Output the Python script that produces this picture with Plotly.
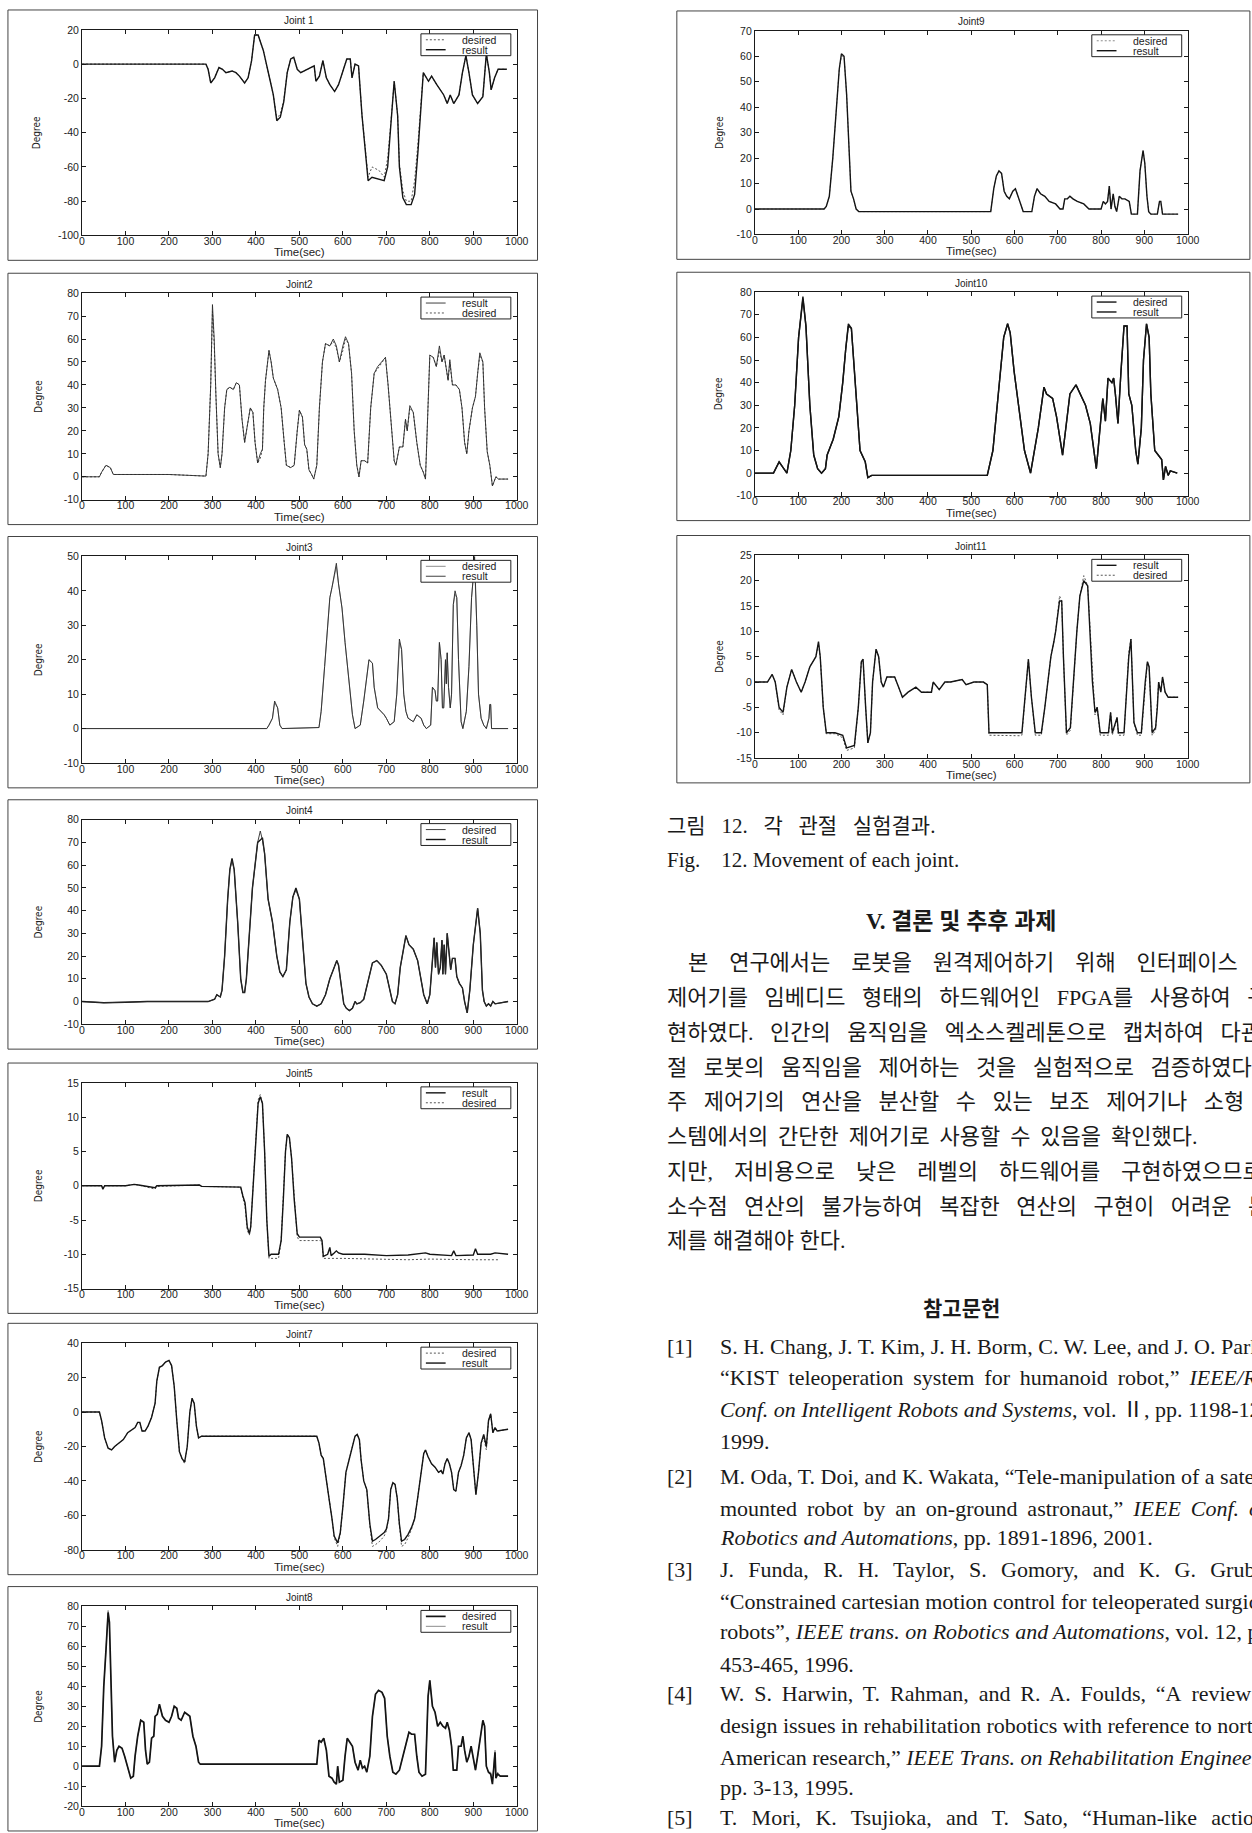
import plotly.graph_objects as go

W, H = 1252, 1833

# ---------------- data (time in sec, angle in degree) ----------------
X_TICKS = [0, 100, 200, 300, 400, 500, 600, 700, 800, 900, 1000]

J1_YTICKS = [-100, -80, -60, -40, -20, 0, 20]
J1_RESULT = [(0,0),(285,0),(290,-3),(296,-11),(305,-8),(315,-2),(323,-3),(331,-5),(345,-4),(354,-5),(362,-7),(374,-11),(382,-8),(390,2),(397,17),(405,17),(417,8),(425,-2),(433,-10),(440,-18),(448,-33),(456,-31),(464,-22),(472,-5),(480,3),(487,4),(495,-3),(503,-5),(519,-3),(534,-1),(538,-10),(546,-7),(554,2),(562,-8),(570,-12),(581,-16),(590,-12),(597,-6),(609,3),(617,3),(621,-8),(628,0),(636,-1),(644,-30),(652,-50),(658,-68),(667,-66),(683,-67),(695,-68),(703,-60),(710,-35),(718,-10),(726,-30),(730,-60),(738,-78),(746,-82),(757,-82),(765,-76),(773,-50),(781,-20),(785,-5),(797,-10),(804,-7),(816,-12),(832,-18),(840,-23),(847,-18),(855,-23),(867,-18),(875,-5),(883,5),(890,-5),(898,-18),(910,-23),(922,-19),(930,6),(937,-5),(941,-15),(949,-8),(957,-3),(977,-3)]
J1_DESIRED = [(0,0),(285,0),(290,-3),(296,-11),(305,-8),(315,-2),(323,-3),(331,-5),(345,-4),(354,-5),(362,-7),(374,-11),(382,-8),(390,2),(397,17),(405,17),(417,8),(425,-2),(433,-10),(440,-18),(448,-32),(456,-29),(464,-21),(472,-5),(480,3),(487,4),(495,-3),(503,-5),(519,-3),(534,-1),(538,-10),(546,-7),(554,2),(562,-8),(570,-12),(581,-16),(590,-12),(597,-6),(609,3),(617,3),(621,-8),(628,0),(636,-1),(644,-30),(652,-50),(658,-66),(667,-60),(683,-62),(695,-66),(703,-55),(710,-35),(718,-10),(726,-30),(730,-58),(738,-74),(746,-80),(757,-80),(765,-68),(773,-45),(781,-20),(785,-5),(797,-10),(804,-7),(816,-12),(832,-18),(840,-23),(847,-18),(855,-23),(867,-18),(875,-5),(883,5),(890,-5),(898,-18),(910,-23),(922,-19),(930,6),(937,-5),(941,-15),(949,-8),(957,-3),(977,-3)]

J2_YTICKS = [-10, 0, 10, 20, 30, 40, 50, 60, 70, 80]
J2_RESULT = [(0,0),(40,0),(45,2),(55,5),(65,4),(72,1),(200,1),(285,0.3),(290,10),(296,40),(300,75),(304,60),(308,35),(313,10),(318,4),(322,10),(328,30),(333,38),(340,39),(348,38),(355,41),(362,40),(368,25),(374,15),(380,22),(387,30),(393,28),(398,15),(404,6),(410,10),(415,12),(418,30),(422,42),(430,55),(435,50),(440,43),(450,38),(458,30),(465,15),(470,5),(480,4),(488,5),(495,20),(500,29),(507,26),(512,14),(517,12),(522,3),(528,1),(533,-1),(540,5),(546,30),(553,50),(560,58),(570,57),(578,60),(585,57),(592,50),(600,57),(606,61),(613,58),(620,45),(626,20),(632,5),(637,0),(642,7),(650,7),(657,6),(664,30),(672,45),(680,48),(690,50),(698,52),(704,40),(712,20),(718,7),(722,5),(730,13),(738,13),(744,25),(748,20),(754,31),(762,28),(770,15),(778,5),(785,2),(790,-1),(795,30),(800,53),(808,52),(815,48),(822,57),(828,50),(833,53),(838,46),(842,42),(846,51),(852,40),(860,40),(868,38),(874,30),(880,15),(885,10),(890,20),(898,30),(905,35),(910,45),(915,54),(922,50),(926,30),(932,11),(938,5),(944,-4),(948,-2),(952,0),(958,-1),(980,-1)]
J2_DESIRED = [(0,0),(40,0),(45,2),(55,5),(65,4),(72,1),(200,1),(285,0.3),(290,10),(296,40),(300,72),(304,58),(308,35),(313,10),(318,4),(322,10),(328,30),(333,38),(340,39),(348,38),(355,41),(362,40),(368,25),(374,15),(380,22),(387,30),(393,28),(398,15),(404,6),(410,8),(415,12),(418,30),(422,42),(430,55),(435,50),(440,43),(450,38),(458,30),(465,15),(470,5),(480,4),(488,5),(495,20),(500,29),(507,26),(512,14),(517,12),(522,3),(528,1),(533,-1),(540,5),(546,30),(553,50),(560,58),(570,57),(578,59),(585,56),(592,50),(600,55),(606,60),(613,58),(620,45),(626,20),(632,5),(637,0),(642,7),(650,7),(657,6),(664,30),(672,45),(680,47),(690,50),(698,52),(704,40),(712,20),(718,7),(722,5),(730,13),(738,13),(744,25),(748,20),(754,30),(762,28),(770,15),(778,5),(785,2),(790,-1),(795,30),(800,53),(808,52),(815,48),(822,55),(828,50),(833,53),(838,46),(842,42),(846,50),(852,40),(860,40),(868,38),(874,30),(880,15),(885,10),(890,20),(898,30),(905,35),(910,45),(915,53),(922,50),(926,30),(932,11),(938,5),(944,-4),(948,-2),(952,0),(958,-1),(980,-1)]

J3_YTICKS = [-10, 0, 10, 20, 30, 40, 50]
J3_RESULT = [(0,0),(425,0),(430,1),(438,3),(443,8),(450,6),(455,1),(460,0),(545,0.3),(550,5),(558,18),(565,30),(570,38),(575,41),(580,44),(585,48),(590,42),(598,35),(605,25),(615,12),(622,4),(628,0),(640,1),(648,8),(655,15),(660,20),(668,19),(672,12),(680,6),(688,5),(695,4),(700,3),(708,1),(718,2),(724,10),(730,26),(735,23),(740,10),(745,5),(750,3),(762,2),(770,4),(780,3),(786,1),(792,0),(802,1),(806,12),(812,11),(815,8),(818,8),(822,25),(826,20),(829,6),(832,6),(836,20),(838,13),(840,22),(843,12),(847,6),(850,10),(854,36),(858,40),(862,38),(866,20),(872,2),(876,0),(884,5),(890,18),(896,38),(900,44),(903,50),(908,30),(912,10),(918,3),(924,1),(930,0),(936,3),(938,7),(940,7),(942,0),(980,0)]
J3_DESIRED = [(0,0),(425,0),(430,1),(438,3),(443,7.5),(450,6),(455,1),(460,0),(545,0.3),(550,5),(558,18),(565,30),(570,38),(575,41),(580,44),(585,47),(590,42),(598,35),(605,25),(615,12),(622,4),(628,0),(640,1),(648,8),(655,15),(660,20),(668,19),(672,12),(680,6),(688,5),(695,4),(700,3),(708,1),(718,2),(724,10),(730,25),(735,23),(740,10),(745,5),(750,3),(762,2),(770,4),(780,3),(786,1),(792,0),(802,1),(806,12),(812,11),(815,8),(818,8),(822,25),(826,20),(829,6),(832,6),(836,20),(838,13),(840,22),(843,12),(847,6),(850,10),(854,36),(858,39),(862,38),(866,20),(872,2),(876,0),(884,5),(890,18),(896,38),(900,44),(903,48),(908,30),(912,10),(918,3),(924,1),(930,0),(936,3),(938,7),(940,7),(942,0),(980,0)]

J4_YTICKS = [-10, 0, 10, 20, 30, 40, 50, 60, 70, 80]
J4_RESULT = [(0,0),(50,-0.5),(100,-0.3),(150,0),(290,0),(305,1),(310,3),(318,2),(322,5),(328,20),(335,45),(340,58),(345,63),(350,58),(358,35),(365,10),(370,4),(374,4),(378,10),(385,30),(392,50),(398,60),(404,70),(410,71),(415,72),(420,65),(428,45),(438,35),(448,20),(455,13),(462,11),(470,14),(478,35),(485,46),(492,50),(500,45),(508,25),(515,8),(522,2),(530,-1),(540,-2),(550,-1),(560,3),(570,10),(578,14),(586,18),(590,16),(597,5),(602,-1),(608,-3),(615,-4),(622,-3),(628,0),(632,-1),(640,-0.5),(648,1),(660,10),(668,17),(678,18),(688,16),(700,12),(708,5),(714,0),(720,-1),(726,3),(732,15),(738,22),(745,29),(752,25),(762,23),(772,18),(780,10),(786,3),(794,-1),(800,3),(806,18),(810,28),(813,15),(816,26),(820,12),(824,15),(828,27),(830,12),(833,25),(836,12),(840,30),(844,22),(848,14),(852,19),(858,19),(862,11),(868,8),(875,6),(880,0),(886,-5),(892,5),(900,25),(906,35),(910,41),(916,30),(921,5),(925,0),(930,-2),(935,-1),(940,-2),(945,0),(950,-1),(980,0)]
J4_DESIRED = [(0,0),(50,-0.5),(100,-0.3),(150,0),(290,0),(305,1),(310,3),(318,2),(322,5),(328,20),(335,45),(340,58),(345,62),(350,58),(358,35),(365,10),(370,4),(374,4),(378,10),(385,30),(392,50),(398,60),(404,70),(410,75),(415,71),(420,65),(428,45),(438,35),(448,20),(455,13),(462,11),(470,14),(478,35),(485,46),(492,49),(500,45),(508,25),(515,8),(522,2),(530,-1),(540,-2),(550,-1),(560,3),(570,10),(578,14),(586,18),(590,16),(597,5),(602,-1),(608,-3),(615,-4),(622,-3),(628,0),(632,-1),(640,-0.5),(648,1),(660,10),(668,17),(678,18),(688,16),(700,12),(708,5),(714,0),(720,-1),(726,3),(732,15),(738,22),(745,29),(752,25),(762,23),(772,18),(780,10),(786,3),(794,-1),(800,3),(806,18),(810,28),(813,15),(816,26),(820,12),(824,15),(828,27),(830,12),(833,25),(836,12),(840,30),(844,22),(848,14),(852,19),(858,19),(862,11),(868,8),(875,6),(880,0),(886,-5),(892,5),(900,25),(906,35),(910,41),(916,30),(921,5),(925,0),(930,-2),(935,-1),(940,-2),(945,0),(950,-1),(980,0)]

J5_YTICKS = [-15, -10, -5, 0, 5, 10, 15]
J5_RESULT = [(0,0),(45,0),(48,-0.5),(52,0),(100,0),(120,0.2),(130,0.1),(168,-0.3),(172,0),(270,0.1),(275,-0.1),(365,-0.2),(370,-1.5),(375,-2.5),(380,-6),(385,-7),(388,-6),(392,-2),(398,5),(405,12),(410,13),(415,12),(420,5),(425,-5),(430,-10.3),(435,-10),(452,-10),(458,-8),(463,-2),(468,5),(472,7.5),(477,7),(482,4),(488,-2),(495,-7),(500,-7.5),(548,-7.5),(552,-8),(555,-10.3),(565,-10),(570,-9),(573,-10.2),(580,-9.8),(585,-9.5),(590,-9.8),(600,-10),(650,-10),(700,-10.2),(750,-10.1),(790,-9.8),(800,-10),(850,-10.2),(855,-9.5),(860,-10.2),(900,-10.1),(905,-9.2),(910,-10),(940,-10),(950,-9.8),(960,-9.9),(980,-10)]
J5_DESIRED = [(0,0),(45,0),(48,-0.3),(52,0),(100,0),(120,0.2),(130,0.1),(168,-0.5),(172,-0.1),(270,0.1),(275,-0.1),(365,-0.2),(370,-1.8),(375,-3),(380,-6.5),(385,-7.2),(388,-6),(392,-2),(398,5),(405,12.5),(410,13.3),(415,12),(420,5),(425,-5),(430,-10.6),(452,-10.6),(458,-8),(463,-2),(468,5),(472,7.5),(477,7),(482,4),(488,-2),(495,-7.5),(500,-8),(548,-8),(552,-8.2),(555,-10.6),(600,-10.6),(650,-10.7),(700,-10.8),(750,-10.8),(800,-10.7),(850,-10.8),(900,-10.8),(960,-10.8)]

J7_YTICKS = [-80, -60, -40, -20, 0, 20, 40]
J7_RESULT = [(0,0),(40,0),(45,-5),(52,-15),(60,-21),(68,-22),(75,-20),(85,-18),(95,-16),(105,-12),(115,-10),(122,-9),(128,-6),(133,-6),(138,-11),(145,-11),(152,-8),(160,-3),(168,5),(172,18),(178,26),(185,27),(192,29),(200,30),(206,27),(212,15),(218,-5),(224,-23),(230,-27),(236,-29),(242,-20),(248,0),(253,8),(258,5),(263,-8),(268,-15),(275,-14),(540,-14),(545,-18),(550,-25),(555,-27),(560,-35),(568,-50),(575,-62),(580,-72),(588,-76),(594,-70),(600,-55),(607,-35),(614,-28),(622,-20),(628,-14),(633,-13),(638,-16),(642,-28),(648,-40),(655,-45),(662,-65),(668,-75),(675,-74),(685,-72),(695,-70),(700,-68),(705,-62),(710,-45),(715,-41),(720,-42),(725,-50),(730,-65),(735,-75),(742,-74),(750,-71),(758,-67),(765,-62),(772,-50),(780,-35),(786,-24),(790,-22),(796,-26),(804,-30),(812,-32),(820,-35),(826,-34),(830,-36),(835,-30),(840,-27),(845,-30),(850,-35),(855,-45),(860,-46),(866,-35),(872,-31),(878,-25),(884,-15),(890,-12),(895,-16),(900,-30),(906,-48),(912,-35),(918,-18),(924,-13),(930,-20),(935,-5),(940,-1),(945,-12),(950,-9),(955,-11),(980,-10)]
J7_DESIRED = [(0,0),(40,0),(45,-5),(52,-15),(60,-21),(68,-22),(75,-20),(85,-18),(95,-16),(105,-12),(115,-10),(122,-9),(128,-6),(133,-6),(138,-11),(145,-11),(152,-8),(160,-3),(168,5),(172,18),(178,26),(185,27),(192,29),(200,30),(206,27),(212,15),(218,-5),(224,-23),(230,-27),(236,-30),(242,-20),(248,0),(253,8),(258,5),(263,-8),(268,-15),(275,-14),(540,-14),(545,-18),(550,-25),(555,-27),(560,-35),(568,-50),(575,-62),(580,-73),(588,-78),(594,-71),(600,-55),(607,-35),(614,-28),(622,-20),(628,-14),(633,-13),(638,-16),(642,-28),(648,-40),(655,-45),(662,-66),(668,-78),(675,-77),(685,-75),(695,-72),(700,-69),(705,-62),(710,-45),(715,-41),(720,-42),(725,-50),(730,-66),(735,-78),(742,-77),(750,-73),(758,-68),(765,-62),(772,-50),(780,-35),(786,-24),(790,-22),(796,-26),(804,-30),(812,-32),(820,-35),(826,-34),(830,-36),(835,-30),(840,-27),(845,-30),(850,-35),(855,-45),(860,-46),(866,-35),(872,-31),(878,-25),(884,-15),(890,-12),(895,-16),(900,-30),(906,-48),(912,-35),(918,-18),(924,-15),(930,-22),(935,-5),(940,-1),(945,-12),(950,-9),(955,-11),(980,-10)]

J8_YTICKS = [-20, -10, 0, 10, 20, 30, 40, 50, 60, 70, 80]
J8_RESULT = [(0,0),(40,0),(45,10),(50,40),(55,58),(60,78),(63,70),(66,40),(70,15),(75,2),(80,8),(85,10),(92,9),(98,5),(105,0),(112,-6),(118,-5),(122,5),(128,15),(135,23),(142,22),(146,8),(150,1),(155,2),(160,14),(165,15),(168,25),(173,26),(178,31),(185,25),(192,23),(200,22),(206,25),(212,30),(218,29),(222,24),(228,23),(236,27),(242,26),(248,25),(255,15),(262,10),(268,2),(272,1),(540,1),(545,13),(550,12),(556,14),(562,8),(568,-5),(575,-6),(580,-8),(585,-9),(588,0),(592,-8),(600,-7),(605,5),(610,14),(616,12),(622,10),(628,2),(635,-2),(640,3),(645,-1),(650,0),(655,-3),(662,5),(668,25),(675,36),(682,38),(690,37),(696,34),(702,15),(708,5),(715,-3),(722,-4),(730,-2),(738,5),(746,12),(752,17),(758,16),(765,16),(770,5),(775,-3),(782,-5),(790,-4),(796,35),(800,43),(806,30),(812,27),(818,20),(824,22),(830,20),(836,19),(840,22),(845,18),(850,10),(854,-2),(862,-2),(866,10),(872,10),(876,15),(880,8),(885,2),(890,5),(895,10),(900,4),(905,-2),(910,5),(916,13),(922,23),(926,20),(930,0),(935,-3),(940,-3),(944,-8),(948,2),(950,8),(952,-5),(956,-3),(962,-5),(980,-5)]
J8_DESIRED = [(0,0),(40,0),(45,10),(50,40),(55,58),(60,77),(63,72),(66,40),(70,15),(75,2),(80,8),(85,10),(92,9),(98,5),(105,0),(112,-6),(118,-5),(122,5),(128,15),(135,23),(142,22),(146,8),(150,1),(155,2),(160,14),(165,15),(168,25),(173,26),(178,31),(185,25),(192,23),(200,22),(206,25),(212,30),(218,29),(222,24),(228,23),(236,27),(242,26),(248,25),(255,15),(262,10),(268,2),(272,1),(540,1),(545,13),(550,12),(556,14),(562,8),(568,-5),(575,-6),(580,-8),(585,-9),(588,0),(592,-8),(600,-7),(605,5),(610,14),(616,12),(622,10),(628,2),(635,-2),(640,3),(645,-1),(650,0),(655,-3),(662,5),(668,25),(675,36),(682,38),(690,37),(696,34),(702,15),(708,5),(715,-3),(722,-4),(730,-2),(738,5),(746,12),(752,17),(758,16),(765,16),(770,5),(775,-3),(782,-5),(790,-4),(796,35),(800,43),(806,30),(812,27),(818,20),(824,22),(830,20),(836,19),(840,22),(845,18),(850,10),(854,-2),(862,-2),(866,10),(872,10),(876,15),(880,8),(885,2),(890,5),(895,10),(900,4),(905,-2),(910,5),(916,13),(922,23),(926,20),(930,0),(935,-3),(940,-4),(944,-9),(948,3),(950,7),(952,-6),(956,-4),(962,-5),(980,-5)]

J9_YTICKS = [-10, 0, 10, 20, 30, 40, 50, 60, 70]
J9_RESULT = [(0,0),(160,0),(165,1),(172,5),(180,20),(188,40),(195,55),(200,61),(206,60),(212,45),(218,20),(222,7),(228,4),(234,0),(240,-1),(545,-1),(552,8),(558,13),(564,15),(570,14),(576,7),(582,5),(588,4),(596,7),(602,8),(608,5),(615,1),(620,-1),(640,-1),(646,5),(652,8),(660,6),(670,5),(680,3),(695,2),(705,0),(712,0),(716,4),(722,4),(728,5),(735,4),(745,3),(760,2),(772,0),(800,0),(805,3),(810,2),(815,3),(819,9),(823,0),(828,6),(832,1),(836,-1),(842,5),(848,4),(855,4),(865,3),(870,-2),(884,-2),(890,15),(897,23),(901,18),(906,5),(910,-1),(915,-2),(930,-2),(935,3),(938,3),(942,-2),(978,-2)]
J9_DESIRED = [(0,0),(160,0),(165,1),(172,5),(180,20),(188,40),(195,55),(200,60),(206,60),(212,45),(218,20),(222,7),(228,4),(234,0),(240,-1),(545,-1),(552,8),(558,13),(564,15),(570,14),(576,7),(582,5),(588,4),(596,7),(602,8),(608,5),(615,1),(620,-1),(640,-1),(646,5),(652,8),(660,6),(670,5),(680,3),(695,2),(705,0),(712,0),(716,4),(722,4),(728,5),(735,4),(745,3),(760,2),(772,0),(800,0),(805,3),(810,2),(815,3),(819,9),(823,0),(828,6),(832,1),(836,-1),(842,5),(848,4),(855,4),(865,3),(870,-2),(884,-2),(890,15),(897,23),(901,18),(906,5),(910,-1),(915,-2),(930,-2),(935,3),(938,3),(942,-2),(978,-2)]

J10_YTICKS = [-10, 0, 10, 20, 30, 40, 50, 60, 70, 80]
J10_RESULT = [(0,0),(43,0),(56,5),(74,0),(83,10),(92,30),(101,60),(111,78),(118,65),(127,30),(136,8),(145,2),(154,0),(163,2),(167,8),(181,15),(194,25),(203,40),(210,55),(216,66),(223,64),(232,40),(243,10),(255,5),(261,-2),(270,-1),(537,-1),(550,10),(564,40),(575,60),(584,66),(590,62),(599,45),(613,25),(623,10),(637,0),(644,8),(655,20),(668,38),(674,35),(688,33),(697,25),(711,8),(728,35),(742,39),(764,30),(775,22),(789,2),(800,25),(804,33),(810,23),(816,42),(825,40),(829,42),(833,35),(839,22),(846,45),(853,65),(860,65),(864,35),(871,30),(880,10),(885,4),(893,20),(898,50),(905,66),(911,60),(915,35),(924,10),(933,8),(940,6),(944,-3),(949,3),(955,-1),(960,1),(976,0)]
J10_DESIRED = [(0,0),(43,0),(56,5),(74,0),(83,10),(92,30),(101,60),(111,77),(118,65),(127,30),(136,8),(145,2),(154,0),(163,2),(167,8),(181,15),(194,25),(203,40),(210,55),(216,65),(223,64),(232,40),(243,10),(255,5),(261,-2),(270,-1),(537,-1),(550,10),(564,40),(575,60),(584,66),(590,62),(599,45),(613,25),(623,10),(637,0),(644,8),(655,20),(668,38),(674,35),(688,33),(697,25),(711,8),(728,35),(742,39),(764,30),(775,22),(789,2),(800,25),(804,33),(810,23),(816,42),(825,40),(829,42),(833,35),(839,22),(846,45),(853,65),(860,65),(864,35),(871,30),(880,10),(885,4),(893,20),(898,50),(905,66),(911,60),(915,35),(924,10),(933,8),(940,6),(944,-3),(949,3),(955,-1),(960,1),(976,0)]

J11_YTICKS = [-15, -10, -5, 0, 5, 10, 15, 20, 25]
J11_RESULT = [(0,0),(29,0),(40,1.5),(47,0),(56,-5),(65,-6),(74,-1),(85,2.5),(96,0),(107,-2),(116,0),(127,3),(141,5),(147,8),(151,5),(158,-5),(165,-10),(185,-10),(203,-10.5),(212,-13),(230,-12.5),(239,-5),(246,4),(250,4.5),(256,-5),(261,-12),(267,-10),(272,0),(280,6.5),(286,5),(292,0),(297,-1),(305,1),(323,1),(332,-1),(341,-3),(354,-2),(372,-1),(385,-2),(408,-2),(412,0),(426,-1.5),(439,0),(452,0),(479,0.5),(488,-0.5),(506,0),(528,0),(537,-0.5),(541,-10),(613,-10),(617,-10),(632,4.5),(639,-3),(648,-10),(662,-10),(670,-5),(684,5),(691,8),(695,10),(704,16),(709,16),(713,5),(720,-10),(729,-9),(737,2),(744,10),(751,17),(760,20),(769,19),(775,10),(780,0),(786,-6),(791,-5),(798,-10),(817,-10),(822,-6),(826,-10),(837,-7),(840,-10),(853,-10),(864,5),(869,8.5),(876,-8),(884,-10),(893,-10),(902,0),(907,4),(911,3),(918,-10),(926,-9),(930,-5),(933,0),(938,-2),(942,1),(948,-2),(955,-3),(978,-3)]
J11_DESIRED = [(0,0),(29,0),(40,1.5),(47,0),(56,-5.5),(65,-6.5),(74,-1),(85,2.5),(96,0),(107,-2),(116,0),(127,3),(141,5),(147,7.5),(151,5),(158,-5),(165,-10.2),(185,-10.2),(203,-11),(212,-13.5),(230,-13),(239,-5),(246,4),(250,4.5),(256,-5),(261,-12),(267,-10),(272,0),(280,6.5),(286,5),(292,0),(297,-1),(305,1),(323,1),(332,-1),(341,-3),(354,-2),(372,-1),(385,-2),(408,-2),(412,0),(426,-1.5),(439,0),(452,0),(479,0.5),(488,-0.5),(506,0),(528,0),(537,-0.5),(541,-10.5),(613,-10.6),(617,-10.5),(632,4.5),(639,-3),(648,-10.5),(662,-10.5),(670,-5),(684,5),(691,8),(695,10),(704,17),(709,16),(713,5),(720,-10.5),(729,-9.5),(737,2),(744,10),(751,17),(760,21),(769,19),(775,10),(780,0),(786,-6.5),(791,-5),(798,-10.5),(817,-10.5),(822,-6),(826,-10.5),(837,-7),(840,-10.5),(853,-10.5),(864,6),(869,8.5),(876,-8),(884,-10.5),(893,-10.5),(902,0),(907,4),(911,3),(918,-10.5),(926,-9.5),(930,-5),(933,0),(938,-2),(942,1),(948,-2),(955,-3),(978,-3)]

# ---------------- page text ----------------
SP = "\u2002 "          # justified word gap
SPW = "\u2002\u2009 "   # wider gap
SPT = "\u2009 "          # slightly widened gap
SPR = "\u2009\u2009 "    # reference-line gap
CAPTION_KO = "그림\u2002 12.\u2002 각\u2002 관절\u2002 실험결과."
CAPTION_EN = "Fig.\u00a0\u00a0\u00a0\u00a012. Movement of each joint."
HEAD_CONCL = "<b>V. 결론 및 추후 과제</b>"
BODY_LINES = [
    SPW.join(["본", "연구에서는", "로봇을", "원격제어하기", "위해", "인터페이스", "및"]),
    SP.join(["제어기를", "임베디드", "형태의", "하드웨어인", "FPGA를", "사용하여", "구"]),
    SP.join(["현하였다.", "인간의", "움직임을", "엑소스켈레톤으로", "캡처하여", "다관"]),
    SP.join(["절", "로봇의", "움직임을", "제어하는", "것을", "실험적으로", "검증하였다."]),
    SP.join(["주", "제어기의", "연산을", "분산할", "수", "있는", "보조", "제어기나", "소형", "시"]),
    SPT.join(["스템에서의", "간단한", "제어기로", "사용할", "수", "있음을", "확인했다."]) + "\u2002" * 5 + "하",
    SPW.join(["지만,", "저비용으로", "낮은", "레벨의", "하드웨어를", "구현하였으므로"]),
    SP.join(["소수점", "연산의", "불가능하여", "복잡한", "연산의", "구현이", "어려운", "문"]),
    "제를 해결해야 한다.",
]
HEAD_REF = "<b>참고문헌</b>"
REF_LABELS = ["[1]", "[2]", "[3]", "[4]", "[5]"]
REF_LINES = [
    ["S. H. Chang, J. T. Kim, J. H. Borm, C. W. Lee, and J. O. Park,",
     SPT.join(["“KIST", "teleoperation", "system", "for", "humanoid", "robot,”", "<i>IEEE/RSJ</i>"]),
     "<i>Conf. on Intelligent Robots and Systems</i>, vol. Ⅱ, pp. 1198-1203,",
     "1999."],
    ["M. Oda, T. Doi, and K. Wakata, “Tele-manipulation of a satellite",
     SPT.join(["mounted", "robot", "by", "an", "on-ground", "astronaut,”", "<i>IEEE", "Conf.", "on</i>"]),
     "<i>Robotics and Automations</i>, pp. 1891-1896, 2001."],
    [SPR.join(["J.", "Funda,", "R.", "H.", "Taylor,", "S.", "Gomory,", "and", "K.", "G.", "Gruben,"]),
     "“Constrained cartesian motion control for teleoperated surgical",
     "robots”, <i>IEEE trans. on Robotics and Automations</i>, vol. 12, pp.",
     "453-465, 1996."],
    [SPT.join(["W.", "S.", "Harwin,", "T.", "Rahman,", "and", "R.", "A.", "Foulds,", "“A", "review", "of"]),
     "design issues in rehabilitation robotics with reference to north",
     "American research,” <i>IEEE Trans. on Rehabilitation Engineering</i>,",
     "pp. 3-13, 1995."],
    [SPR.join(["T.", "Mori,", "K.", "Tsujioka,", "and", "T.", "Sato,", "“Human-like", "action"])],
]

# ---------------- styles / layout ----------------
def fx(p):
    return p / W


def fy(p):
    return 1 - p / H


SOLID = dict(color="#141414", width=1.4, dash="solid")
DOTTED = dict(color="#555555", width=1.0, dash="2px,2px")
LDOT = dict(color="#8c8c8c", width=1.0, dash="2px,2px")
THIN = dict(color="#2a2a2a", width=0.9, dash="solid")
GRAY = dict(color="#8c8c8c", width=1.0, dash="solid")
THICK = dict(color="#141414", width=1.7, dash="solid")

LEFT = (80, 520)
RIGHT = (761, 1199)
LFR = (5, 541)
RFR = (682, 1262)

PANELS = [
    dict(title="Joint 1", res=J1_RESULT, des=J1_DESIRED, yt=J1_YTICKS, xb=LEFT, yb=(24, 231), fr=LFR, degx=34,
         order=["desired", "result"], sd=DOTTED, sr=SOLID, top="result"),
    dict(title="Joint2", res=J2_RESULT, des=J2_DESIRED, yt=J2_YTICKS, xb=LEFT, yb=(289, 497), fr=LFR, degx=36,
         order=["result", "desired"], sd=DOTTED, sr=THIN, top="result"),
    dict(title="Joint3", res=J3_RESULT, des=J3_DESIRED, yt=J3_YTICKS, xb=LEFT, yb=(554, 762), fr=LFR, degx=36,
         order=["desired", "result"], sd=GRAY, sr=THIN, top="result"),
    dict(title="Joint4", res=J4_RESULT, des=J4_DESIRED, yt=J4_YTICKS, xb=LEFT, yb=(819, 1025), fr=LFR, degx=36,
         order=["desired", "result"], sd=THIN, sr=SOLID, top="desired"),
    dict(title="Joint5", res=J5_RESULT, des=J5_DESIRED, yt=J5_YTICKS, xb=LEFT, yb=(1084, 1291), fr=LFR, degx=36,
         order=["result", "desired"], sd=DOTTED, sr=SOLID, top="result"),
    dict(title="Joint7", res=J7_RESULT, des=J7_DESIRED, yt=J7_YTICKS, xb=LEFT, yb=(1346, 1554), fr=LFR, degx=36,
         order=["desired", "result"], sd=DOTTED, sr=SOLID, top="result"),
    dict(title="Joint8", res=J8_RESULT, des=J8_DESIRED, yt=J8_YTICKS, xb=LEFT, yb=(1611, 1812), fr=LFR, degx=36,
         order=["desired", "result"], sd=THICK, sr=GRAY, top="desired"),
    dict(title="Joint9", res=J9_RESULT, des=J9_DESIRED, yt=J9_YTICKS, xb=RIGHT, yb=(25, 230), fr=RFR, degx=725,
         order=["desired", "result"], sd=LDOT, sr=SOLID, top="result"),
    dict(title="Joint10", res=J10_RESULT, des=J10_DESIRED, yt=J10_YTICKS, xb=RIGHT, yb=(288, 493), fr=RFR, degx=725,
         order=["desired", "result"], sd=SOLID, sr=SOLID, top="result"),
    dict(title="Joint11", res=J11_RESULT, des=J11_DESIRED, yt=J11_YTICKS, xb=RIGHT, yb=(553, 757), fr=RFR, degx=725,
         order=["result", "desired"], sd=DOTTED, sr=SOLID, top="result"),
]

SANS = "Liberation Sans, Arial, sans-serif"
NARROW = "Liberation Sans Narrow, DejaVu Sans Condensed, Liberation Sans, sans-serif"
SERIF_KR = "Liberation Serif, Noto Sans CJK KR, serif"

fig = go.Figure()
layout = dict(width=W, height=H, margin=dict(l=0, r=0, t=0, b=0), autosize=False,
              paper_bgcolor="white", plot_bgcolor="white", showlegend=False)
shapes, annotations = [], []

for i, p in enumerate(PANELS, start=1):
    xa = "xaxis" if i == 1 else f"xaxis{i}"
    ya = "yaxis" if i == 1 else f"yaxis{i}"
    xr = "x" if i == 1 else f"x{i}"
    yr = "y" if i == 1 else f"y{i}"
    x0, x1 = p["xb"]
    y0, y1 = p["yb"]
    common = dict(showline=True, linecolor="#1a1a1a", linewidth=1, mirror="ticks", ticks="inside",
                  ticklen=4, tickwidth=1, tickcolor="#1a1a1a", showgrid=False, zeroline=False,
                  tickfont=dict(family=SANS, size=10.5, color="#222222"), fixedrange=True, tickmode="array")
    layout[xa] = dict(domain=[fx(x0), fx(x1)], range=[0, 1000], anchor=yr, ticklabelstandoff=-4,
                      tickvals=X_TICKS, ticktext=[str(v) for v in X_TICKS], **common)
    layout[ya] = dict(domain=[fy(y1), fy(y0)], range=[p["yt"][0], p["yt"][-1]], anchor=xr,
                      tickvals=p["yt"], ticktext=[str(v) for v in p["yt"]], **common)

    series = {"desired": (p["des"], p["sd"]), "result": (p["res"], p["sr"])}
    draw = [k for k in ("desired", "result") if k != p["top"]] + [p["top"]]
    for key in draw:
        pts, st = series[key]
        fig.add_trace(go.Scatter(x=[q[0] for q in pts], y=[q[1] for q in pts], mode="lines",
                                 name=key, line=st, xaxis=xr, yaxis=yr, hoverinfo="skip"))

    # figure frame
    fx0, fx1 = p["fr"]
    shapes.append(dict(type="rect", xref="paper", yref="paper", x0=fx(fx0), x1=fx(fx1),
                       y0=fy(y1 + 25), y1=fy(y0 - 20), line=dict(color="#444444", width=1), layer="below"))
    # titles
    annotations.append(dict(text=p["title"], x=fx((x0 + x1) / 2), y=fy(y0 - 9), xref="paper", yref="paper",
                            showarrow=False, xanchor="center", yanchor="middle",
                            font=dict(family=SANS, size=10, color="#222222")))
    annotations.append(dict(text="Time(sec)", x=fx((x0 + x1) / 2), y=fy(y1 + 17), xref="paper", yref="paper",
                            showarrow=False, xanchor="center", yanchor="middle",
                            font=dict(family=SANS, size=11.5, color="#222222")))
    annotations.append(dict(text="Degree", x=fx(p["degx"]), y=fy((y0 + y1) / 2), xref="paper", yref="paper",
                            showarrow=False, xanchor="center", yanchor="middle", textangle=-90,
                            font=dict(family=NARROW, size=10, color="#222222")))
    # legend box
    lx0, lx1 = x1 - 97, x1 - 6
    ly0, ly1 = y0 + 4, y0 + 26
    shapes.append(dict(type="rect", xref="paper", yref="paper", x0=fx(lx0), x1=fx(lx1), y0=fy(ly1), y1=fy(ly0),
                       line=dict(color="#222222", width=1), fillcolor="white", layer="above"))
    for k, key in enumerate(p["order"]):
        yy = ly0 + 6 + 10 * k
        st = series[key][1]
        shapes.append(dict(type="line", xref="paper", yref="paper", x0=fx(lx0 + 5), x1=fx(lx0 + 25),
                           y0=fy(yy), y1=fy(yy), line=st, layer="above"))
        annotations.append(dict(text=key, x=fx(lx0 + 40), y=fy(yy), xref="paper", yref="paper",
                                showarrow=False, xanchor="left", yanchor="middle",
                                font=dict(family=SANS, size=10.5, color="#222222")))

# ---------------- text column ----------------
TX = 670


def add_text(txt, x, y, size, family, anchor="left"):
    annotations.append(dict(text=txt, x=fx(x), y=fy(y), xref="paper", yref="paper", showarrow=False,
                            xanchor=anchor, yanchor="middle", align="left",
                            font=dict(family=family, size=size, color="#1a1a1a")))


add_text(CAPTION_KO, TX, 825, 21, SERIF_KR)
add_text(CAPTION_EN, TX, 860, 21, SERIF_KR)
add_text(HEAD_CONCL, 970, 922, 23, SERIF_KR, anchor="center")
for k, line in enumerate(BODY_LINES):
    add_text(line, TX + (21 if k == 0 else 0), 963 + 35 * k, 22, SERIF_KR)
add_text(HEAD_REF, 970, 1312, 21, SERIF_KR, anchor="center")
REF_Y = [[1349, 1381, 1413, 1445], [1480, 1512, 1542], [1574, 1606, 1636, 1669],
         [1699, 1731, 1763, 1793], [1823]]
for lab, lines, ys in zip(REF_LABELS, REF_LINES, REF_Y):
    add_text(lab, TX, ys[0], 22, SERIF_KR)
    for line, yv in zip(lines, ys):
        add_text(line, 724, yv, 22, SERIF_KR)

layout["shapes"] = shapes
layout["annotations"] = annotations
fig.update_layout(**layout)

fig.write_html("out.html", config={"displayModeBar": False, "staticPlot": True},
               post_script="document.body.style.margin='0';document.body.style.overflow='hidden';")
